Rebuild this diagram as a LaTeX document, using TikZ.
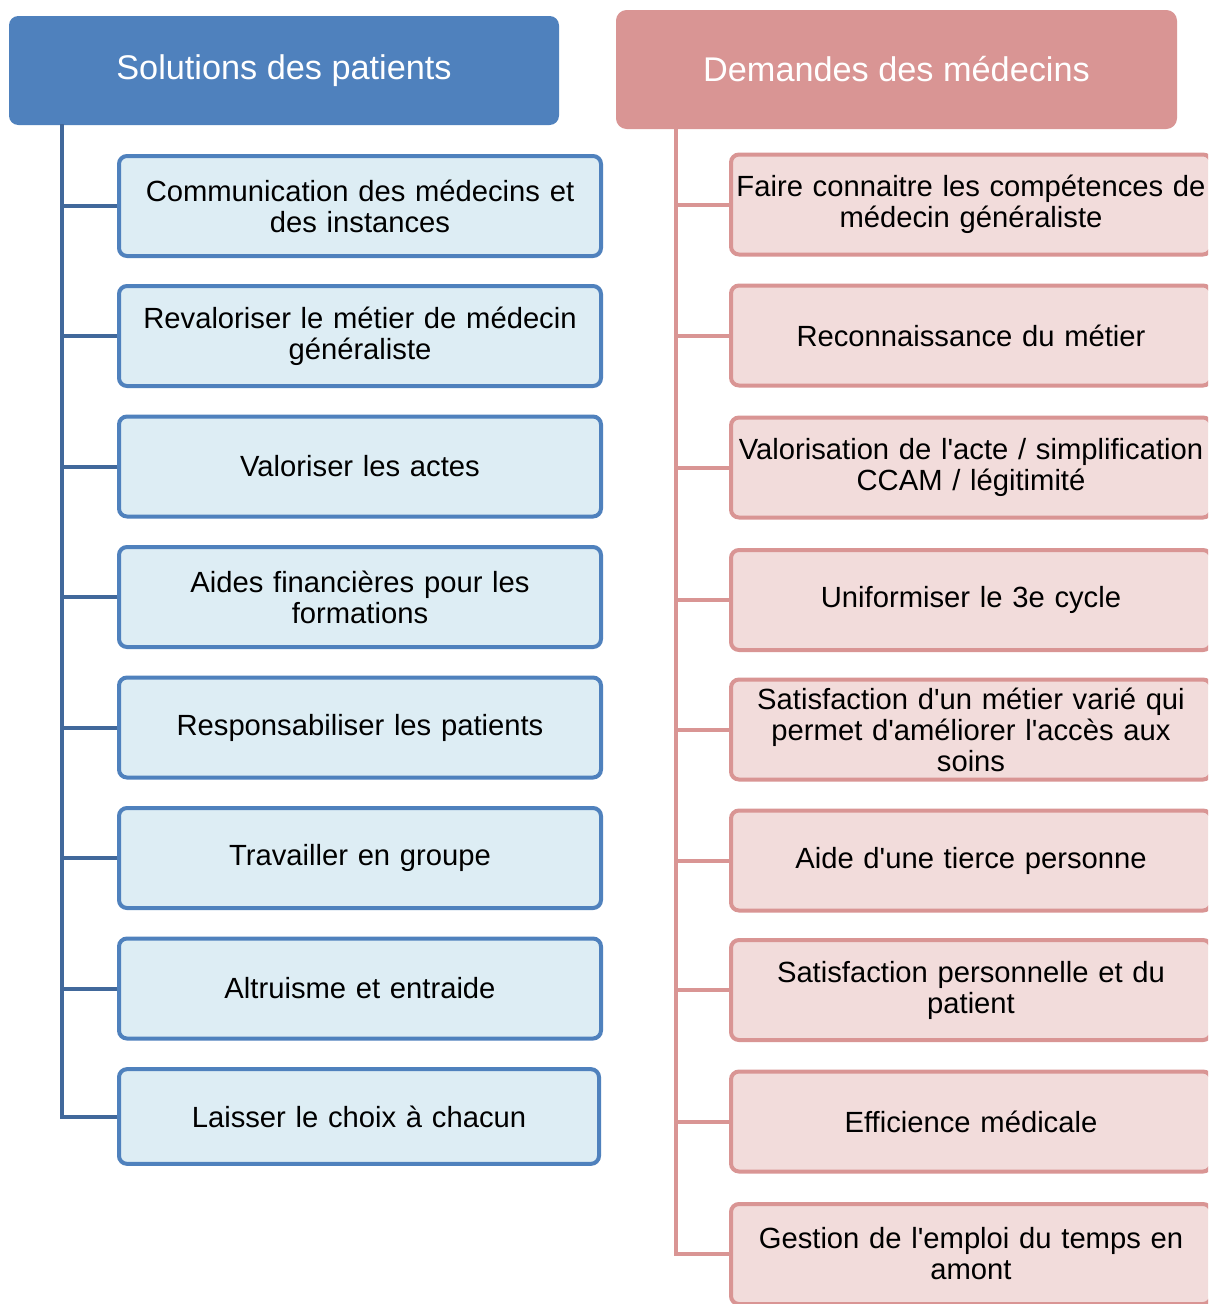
\documentclass[tikz,border=0pt]{standalone}
\usepackage{fontspec}
\setmainfont{Liberation Sans}[Ligatures=TeXOff]
\definecolor{hblue}{HTML}{4F81BD}
\definecolor{tblue}{HTML}{41689B}
\definecolor{fblue}{HTML}{DDEDF4}
\definecolor{hpink}{HTML}{D99594}
\definecolor{fpink}{HTML}{F2DCDB}
\tikzset{
  base/.style={rounded corners=6pt, line width=3pt, align=center, inner sep=0pt,
    font=\fontsize{21.9pt}{23.3pt}\selectfont, text=black},
  lbox/.style={base, draw=hblue, fill=fblue, minimum width=361.5pt, minimum height=75pt, text width=350pt},
  rbox/.style={base, draw=hpink, fill=fpink, minimum width=360pt, minimum height=75pt, text width=355pt},
  lhead/.style={rounded corners=7pt, fill=hblue, text=white, minimum width=412.5pt, minimum height=81.75pt,
    font=\fontsize{25.7pt}{28pt}\selectfont, inner sep=0pt},
  rhead/.style={rounded corners=8pt, fill=hpink, text=white, minimum width=420.75pt, minimum height=89.25pt,
    font=\fontsize{25.7pt}{28pt}\selectfont, inner sep=0pt},
  lconn/.style={draw=tblue, line width=3pt},
  rconn/.style={draw=hpink, line width=3pt},
}
\begin{document}
\begin{tikzpicture}[x=0.75pt,y=-0.75pt]
\useasboundingbox (0,0) rectangle (1208,1304);
\clip (0,0) rectangle (1208,1304);
\fill[white] (0,0) rectangle (1208,1304);

% headers
\node[lhead] (lh) at (284,70.5) {Solutions des patients};
\node[rhead] (rh) at (896.5,69.5) {Demandes des médecins};

% left boxes
\node[lbox] (L1) at (360,206) {Communication des médecins et\\des instances};
\node[lbox] (L2) at (360,336) {Revaloriser le métier de médecin\\généraliste};
\node[lbox] (L3) at (360,466.5) {Valoriser les actes};
\node[lbox] (L4) at (360,597) {Aides financières pour les\\formations};
\node[lbox] (L5) at (360,727.5) {Responsabiliser les patients};
\node[lbox] (L6) at (360,858) {Travailler en groupe};
\node[lbox] (L7) at (360,988.5) {Altruisme et entraide};
\node[lbox, minimum width=360pt, minimum height=71pt] (L8) at (359,1116.5) {Laisser le choix à chacun};

% right boxes
\node[rbox] (R1) at (971,204.5) {Faire connaitre les compétences de\\médecin généraliste};
\node[rbox] (R2) at (971,335.5) {Reconnaissance du métier};
\node[rbox] (R3) at (971,467.5) {Valorisation de l'acte / simplification\\CCAM / légitimité};
\node[rbox] (R4) at (971,600) {Uniformiser le 3e cycle};
\node[rbox] (R5) at (971,729.5) {Satisfaction d'un métier varié qui\\permet d'améliorer l'accès aux\\soins};
\node[rbox] (R6) at (971,860.5) {Aide d'une tierce personne};
\node[rbox] (R7) at (971,990) {Satisfaction personnelle et du\\patient};
\node[rbox] (R8) at (971,1121.5) {Efficience médicale};
\node[rbox] (R9) at (971,1254) {Gestion de l'emploi du temps en\\amont};

% trunks
\coordinate (lt) at (62,124);
\coordinate (rt) at (676,129);
\draw[lconn] (lt) |- (L8.west);
\draw[rconn] (rt) |- (R9.west);
\foreach \n in {L1,L2,L3,L4,L5,L6,L7}
  \draw[lconn] (\n.west) -- (\n.west -| lt);
\foreach \n in {R1,R2,R3,R4,R5,R6,R7,R8}
  \draw[rconn] (\n.west) -- (\n.west -| rt);
\end{tikzpicture}
\end{document}
